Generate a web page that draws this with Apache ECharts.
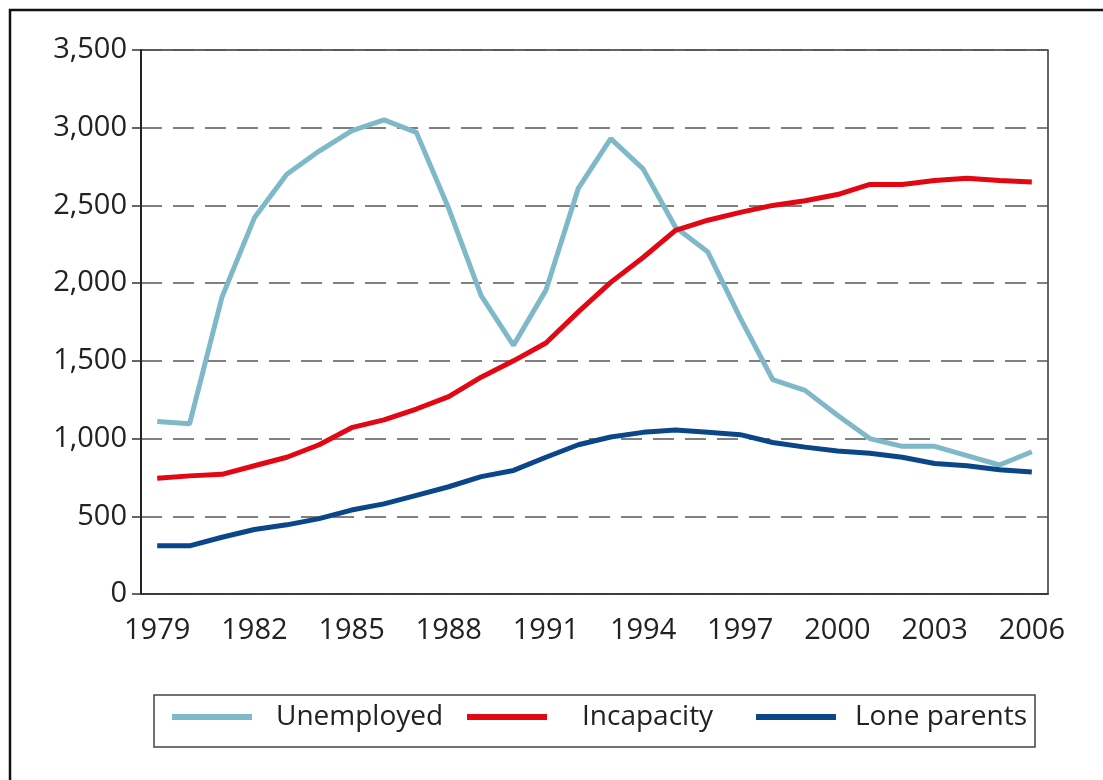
<!DOCTYPE html>
<html lang="en">
<head>
    <meta charset="UTF-8">
    <title>Claimants by benefit type, 1979-2006</title>
    <script src="https://cdn.jsdelivr.net/npm/echarts@6/dist/echarts.min.js"></script>
    <style>
        html, body { margin: 0; padding: 0; background: #fff; }
        #main { width: 1103px; height: 780px; }
    </style>
</head>
<body>
    <div id="main"></div>
    <script>
        // thousands of claimants
        var years = ['1979', '1980', '1981', '1982', '1983', '1984', '1985', '1986', '1987', '1988',
            '1989', '1990', '1991', '1992', '1993', '1994', '1995', '1996', '1997', '1998',
            '1999', '2000', '2001', '2002', '2003', '2004', '2005', '2006'];
        var unemployed = [1110, 1095, 1910, 2420, 2700, 2850, 2980, 3050, 2970, 2480,
            1920, 1600, 1955, 2610, 2930, 2735, 2360, 2200, 1775, 1380,
            1310, 1150, 1000, 950, 950, 890, 830, 915];
        var incapacity = [745, 760, 770, 825, 880, 960, 1070, 1120, 1190, 1270,
            1395, 1500, 1615, 1815, 2005, 2165, 2340, 2405, 2455, 2500,
            2530, 2570, 2635, 2635, 2660, 2675, 2660, 2650];
        var loneParents = [310, 310, 365, 415, 445, 485, 540, 580, 635, 690,
            755, 795, 880, 960, 1010, 1040, 1055, 1040, 1025, 975,
            945, 920, 905, 880, 840, 825, 800, 785];

        var font = '"Open Sans", "DejaVu Sans", sans-serif';
        var myChart = echarts.init(document.getElementById('main'));

        // one legend per item so the uneven spacing of the original can be kept
        function legendAt(name, left, gap) {
            return {
                data: [name],
                left: left,
                top: 702,
                padding: 0,
                icon: 'rect',
                itemWidth: 80,
                itemHeight: 6,
                selectedMode: false,
                textStyle: {
                    fontFamily: font,
                    fontSize: 28,
                    lineHeight: 30,
                    color: '#222',
                    padding: [0, 0, 0, gap]
                }
            };
        }

        var option = {
            backgroundColor: '#fff',
            animation: false,
            color: ['#7fb8c8', '#e30613', '#0b4688'],
            grid: {
                left: 141,
                right: 55,
                top: 50,
                bottom: 186,
                show: true,
                borderColor: '#333',
                borderWidth: 1.5
            },
            legend: [
                legendAt('Unemployed', 172, 19),
                legendAt('Incapacity', 467, 30),
                legendAt('Lone parents', 756, 14)
            ],
            xAxis: {
                type: 'category',
                data: years,
                boundaryGap: true,
                axisLine: { lineStyle: { color: '#333', width: 1.5 } },
                axisTick: {
                    interval: 0,
                    length: 11,
                    lineStyle: { color: '#333', width: 1.5 }
                },
                axisLabel: {
                    interval: 2,
                    margin: 22,
                    fontFamily: font,
                    fontSize: 29,
                    color: '#222'
                }
            },
            yAxis: {
                type: 'value',
                min: 0,
                max: 3500,
                interval: 500,
                axisLine: { show: true, lineStyle: { color: '#222', width: 2 } },
                axisTick: {
                    show: true,
                    length: 9,
                    lineStyle: { color: '#333', width: 1.5 }
                },
                axisLabel: {
                    margin: 14,
                    fontFamily: font,
                    fontSize: 29,
                    color: '#222',
                    formatter: function (v) {
                        return v.toLocaleString('en-GB');
                    }
                },
                splitLine: {
                    show: true,
                    lineStyle: {
                        color: '#555',
                        width: 1.5,
                        type: [21, 11]
                    }
                }
            },
            series: [
                { name: 'Unemployed', type: 'line', data: unemployed, symbol: 'none', lineStyle: { width: 5 } },
                { name: 'Incapacity', type: 'line', data: incapacity, symbol: 'none', lineStyle: { width: 5 } },
                { name: 'Lone parents', type: 'line', data: loneParents, symbol: 'none', lineStyle: { width: 5 } }
            ],
            graphic: {
                elements: [
                    {
                        // outer frame, cut off on the right and bottom
                        type: 'rect',
                        shape: { x: 10, y: 10, width: 1200, height: 900 },
                        style: { fill: 'none', stroke: '#111', lineWidth: 2.5 },
                        silent: true
                    },
                    {
                        // box round the legend
                        type: 'rect',
                        shape: { x: 154, y: 695, width: 881, height: 52 },
                        style: { fill: 'none', stroke: '#444', lineWidth: 1.5 },
                        silent: true
                    }
                ]
            }
        };
        myChart.setOption(option);
    </script>
</body>
</html>
